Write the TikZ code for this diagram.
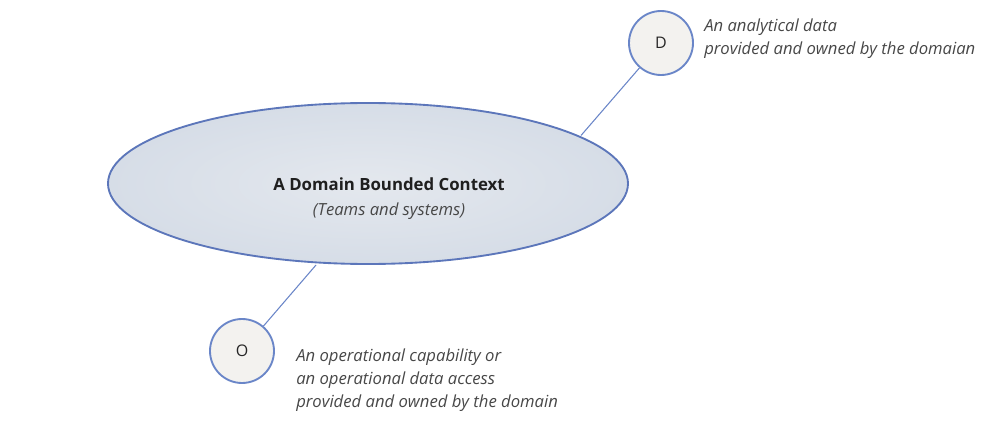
\documentclass[tikz,border=0pt]{standalone}
\usepackage{fontspec}
\setmainfont{Open Sans}
\usetikzlibrary{shapes.geometric}
\definecolor{ringblue}{HTML}{6A86C8}
\definecolor{ellblue}{HTML}{5C76BA}
\definecolor{circfill}{HTML}{F3F2EF}
\definecolor{ellin}{HTML}{E4E8EE}
\definecolor{ellout}{HTML}{D6DDE7}
\definecolor{txtgrey}{HTML}{474747}
\tikzset{
  letternode/.style={circle, draw=ringblue, line width=1.4pt, fill=circfill, minimum size=64*0.75pt, inner sep=0pt, font=\fontsize{12}{14}\selectfont, text=black!85},
  linkline/.style={draw=ringblue, line width=0.8pt},
  desc/.style={anchor=west, align=left, inner sep=0pt, text=txtgrey, font=\fontsize{12.5}{17.25}\selectfont\itshape},
}
\begin{document}
\begin{tikzpicture}[x=0.75pt,y=-0.75pt]
\useasboundingbox (0,0) rectangle (1000,435);
\node[ellipse, draw=ellblue, line width=1.4pt, inner color=ellin, outer color=ellout, minimum width=520*0.75pt, minimum height=161*0.75pt, inner sep=0pt] (ctx) at (368,183.5) {};
\node[font=\fontsize{12.6}{14}\selectfont\bfseries, text=black!88, inner sep=0pt] (title) at (389,184) {A Domain Bounded Context};
\node[font=\fontsize{12.5}{14}\selectfont\itshape, text=txtgrey, inner sep=0pt] (sub) at (389,211) {(Teams and systems)};
\node[letternode] (D) at (661,43) {D};
\node[letternode] (O) at (242,351) {O};
\coordinate (eD) at (581,135.5);
\coordinate (eO) at (316,265);
\draw[linkline] (D) -- (eD);
\draw[linkline] (O) -- (eO);
\node[desc] (dl) at (704,38.5) {An analytical data\\provided and owned by the domaian};
\node[desc] (ol) at (296,380.5) {An operational capability or\\an operational data access\\provided and owned by the domain};
\end{tikzpicture}
\end{document}
